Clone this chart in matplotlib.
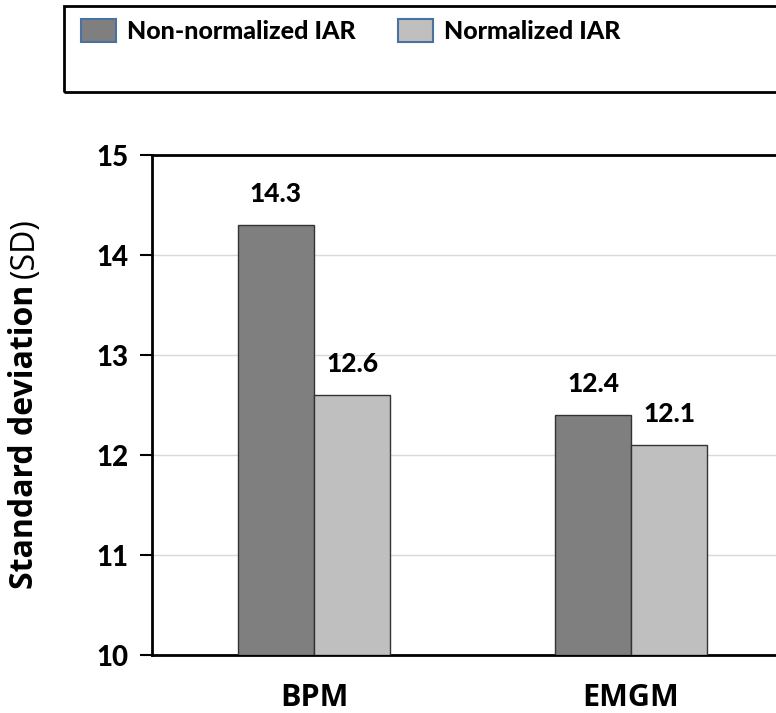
import matplotlib.pyplot as plt
import numpy as np
from matplotlib.patches import Rectangle

# data
categories = ['BPM', 'EMGM']
series_names = ['Non-normalized IAR', 'Normalized IAR']
non_normalized = [14.3, 12.4]
normalized = [12.6, 12.1]
y_ticks = [10, 11, 12, 13, 14, 15]

bar_colors = ['#7f7f7f', '#bfbfbf']
tick_font = 'Lato'
label_font = 'Open Sans'

fig = plt.figure(figsize=(7.76, 7.13), dpi=100)
ax = fig.add_axes([152 / 776, 58 / 713, 641 / 776, 500 / 713])

x = np.arange(len(categories))
w = 0.24
ax.bar(x - w / 2, np.array(non_normalized) - 10, w, bottom=10,
       color=bar_colors[0], edgecolor='#333333', linewidth=1, zorder=3)
ax.bar(x + w / 2, np.array(normalized) - 10, w, bottom=10,
       color=bar_colors[1], edgecolor='#333333', linewidth=1, zorder=3)

for xs, vals in [(x - w / 2, non_normalized), (x + w / 2, normalized)]:
    for xi, v in zip(xs, vals):
        ax.annotate(f'{v}', (xi, v), xytext=(0, 14), textcoords='offset points',
                    ha='center', va='bottom', fontsize=19, fontweight='black',
                    family=tick_font)

ax.set_xlim(-0.511, 1.511)
ax.set_ylim(10, 15)
ax.set_yticks(y_ticks)
ax.set_yticklabels([str(t) for t in y_ticks], fontsize=20, fontweight='black', family=tick_font)
ax.set_xticks(x)
ax.set_xticklabels(categories, fontsize=22, fontweight='bold', family=label_font)
ax.tick_params(axis='x', length=0, pad=20)
ax.tick_params(axis='y', length=9, width=1.5, pad=8, direction='out')
ax.grid(axis='y', color='#d9d9d9', linewidth=1, zorder=0)
for side in ['left', 'bottom', 'top']:
    ax.spines[side].set_linewidth(2)
ax.spines['right'].set_visible(False)

# y label: bold part + normal part
t1 = fig.text(25 / 776, 1 - 589 / 713, 'Standard deviation', rotation=90,
              ha='center', va='bottom', fontsize=23, fontweight='bold', family=label_font)
fig.canvas.draw()
bb = t1.get_window_extent()
fig.text(25 / 776, (bb.y1 + 7) / fig.bbox.height, '(SD)', rotation=90,
         ha='center', va='bottom', fontsize=23, family=label_font)

# legend box
fig.patches.append(Rectangle((64 / 776, 1 - 92 / 713), 0.95, 86 / 713,
                             transform=fig.transFigure, fill=False,
                             edgecolor='black', linewidth=2))
handles = [Rectangle((0, 0), 1, 1, facecolor=c, edgecolor='#4a72a0', linewidth=1.5)
           for c in bar_colors]
fig.legend(handles, series_names, loc='upper left', bbox_to_anchor=(58 / 776, 1 + 3 / 713),
           ncol=2, frameon=False, handlelength=1.4, handleheight=1.0, handletextpad=0.45,
           columnspacing=1.7, prop={'family': tick_font, 'weight': 'black', 'size': 18})

fig.savefig('out.png', dpi=100)
